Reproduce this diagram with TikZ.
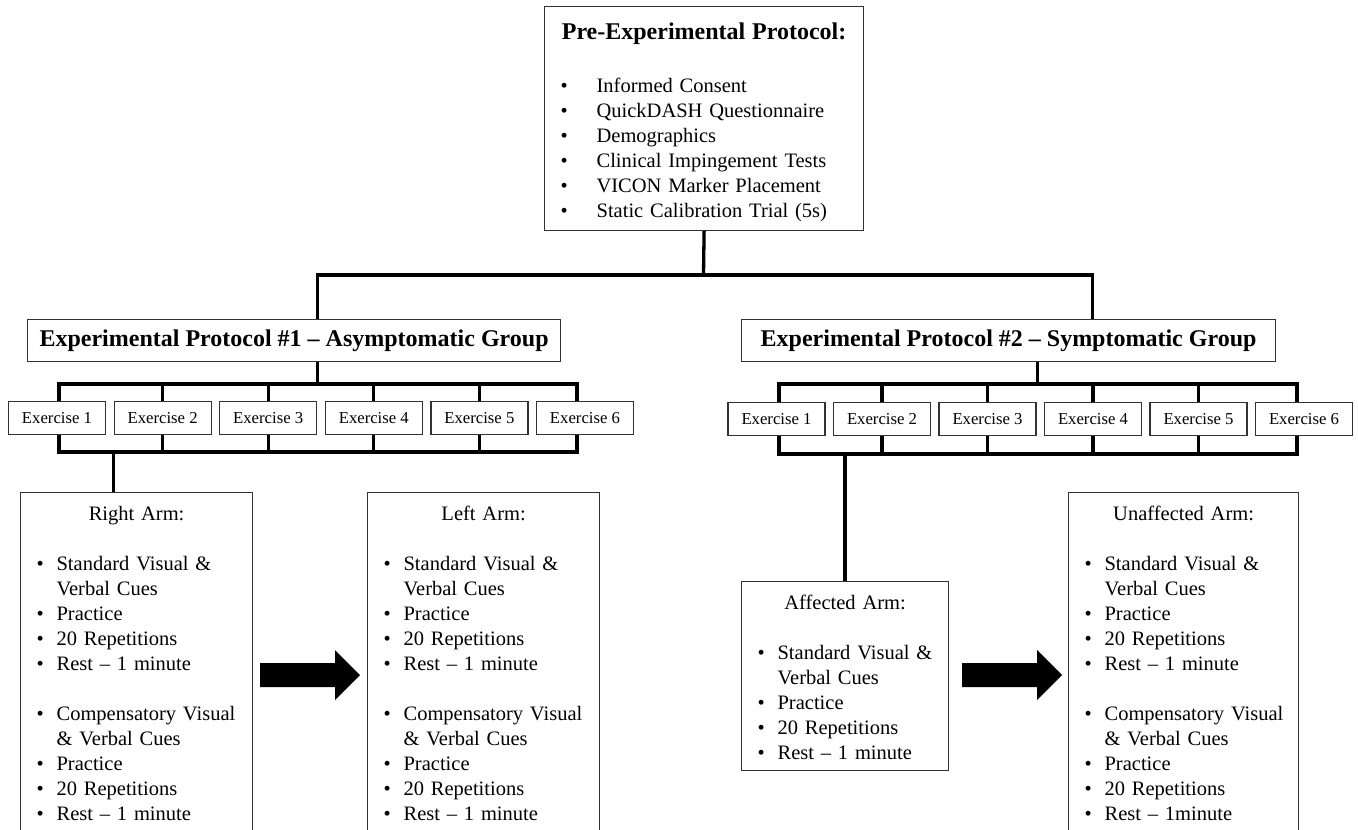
\documentclass[tikz,border=0pt]{standalone}
\usepackage{fontspec}
\setmainfont{Liberation Serif}

\newcommand{\preitem}[1]{\par\noindent\hspace*{16pt}\makebox[36pt][l]{\textbullet}#1}
\newcommand{\armitem}[1]{\par\noindent\hangindent=36pt\hangafter=1\hspace*{16pt}\makebox[20pt][l]{\textbullet}#1}

\begin{document}
\begin{tikzpicture}[x=1pt,y=-1pt,
	font=\fontsize{20.5}{25}\selectfont,
	box/.style={draw=black!80, line width=1.2pt, inner sep=0pt, anchor=north west, align=left},
	grpbox/.style={box, minimum width=533pt, minimum height=42pt, align=center, font=\bfseries\fontsize{24}{29}\selectfont},
	exbox/.style={draw=black!80, line width=1.2pt, inner sep=0pt, minimum width=97pt, minimum height=33pt, font=\fontsize{16.7}{20}\selectfont},
	conn/.style={line width=3.3pt}]

	\useasboundingbox (0,0) rectangle (1358,830);

	% top box
	\node[box, text width=319pt] (pre) at (544,6) {{\centering\bfseries\fontsize{24}{29}\selectfont\rule{0pt}{33pt}Pre-Experimental Protocol:\par}\vspace{28pt}
		\preitem{Informed Consent}
		\preitem{QuickDASH Questionnaire}
		\preitem{Demographics}
		\preitem{Clinical Impingement Tests}
		\preitem{VICON Marker Placement}
		\preitem{Static Calibration Trial (5s)\rule[-13pt]{0pt}{13pt}}};

	% groups
	\node[grpbox] (grpA) at (27,319) {Experimental Protocol \#1 – Asymptomatic Group};
	\node[grpbox, minimum width=534pt] (grpB) at (741,319) {Experimental Protocol \#2 – Symptomatic Group};

	\coordinate (split) at (703.5,275);
	\draw[conn] (pre.south) -- (split);
	\draw[conn] ([xshift=23.5pt]grpA.north) |- (split) -| ([xshift=84pt]grpB.north);

	% exercises
	\foreach \i in {1,...,6}{
		\node[exbox] (aEx\i) at ({57+(\i-1)*105.6},418) {Exercise \i};
		\node[exbox] (bEx\i) at ({776.5+(\i-1)*105.5},419) {Exercise \i};
	}

	\coordinate (aTop) at (0,384);
	\coordinate (aBot) at (0,452);
	\coordinate (bTop) at (0,384);
	\coordinate (bBot) at (0,454);

	\draw[conn] ([xshift=23.5pt]grpA.south) -- ([xshift=23.5pt]grpA.south |- aTop);
	\draw[conn] ([xshift=29pt]grpB.south) -- ([xshift=29pt]grpB.south |- bTop);

	\draw[conn] ([xshift=2pt]aEx1.north) |- ([xshift=-8pt]aEx6.north |- aTop) -- ([xshift=-8pt]aEx6.north);
	\draw[conn] ([xshift=2pt]aEx1.south) |- ([xshift=-8pt]aEx6.south |- aBot) -- ([xshift=-8pt]aEx6.south);
	\draw[conn] ([xshift=2.5pt]bEx1.north) |- ([xshift=-7pt]bEx6.north |- bTop) -- ([xshift=-7pt]bEx6.north);
	\draw[conn] ([xshift=2.5pt]bEx1.south) |- ([xshift=-7pt]bEx6.south |- bBot) -- ([xshift=-7pt]bEx6.south);
	\foreach \i in {2,...,5}{
		\draw[conn] (aEx\i.north) -- (aEx\i.north |- aTop);
		\draw[conn] (aEx\i.south) -- (aEx\i.south |- aBot);
		\draw[conn] (bEx\i.north) -- (bEx\i.north |- bTop);
		\draw[conn] (bEx\i.south) -- (bEx\i.south |- bBot);
	}

	% arms
	\node[box, text width=232pt] (rightArm) at (20,492) {{\centering\rule{0pt}{28pt}Right Arm:\par}\vspace{25pt}
		\armitem{Standard Visual \&\newline Verbal Cues}
		\armitem{Practice}
		\armitem{20 Repetitions}
		\armitem{Rest – 1 minute}\par\vspace{25pt}
		\armitem{Compensatory Visual\newline \& Verbal Cues}
		\armitem{Practice}
		\armitem{20 Repetitions}
		\armitem{Rest – 1 minute\rule[-30pt]{0pt}{30pt}}};

	\node[box, text width=232pt] (leftArm) at (367,492) {{\centering\rule{0pt}{28pt}Left Arm:\par}\vspace{25pt}
		\armitem{Standard Visual \&\newline Verbal Cues}
		\armitem{Practice}
		\armitem{20 Repetitions}
		\armitem{Rest – 1 minute}\par\vspace{25pt}
		\armitem{Compensatory Visual\newline \& Verbal Cues}
		\armitem{Practice}
		\armitem{20 Repetitions}
		\armitem{Rest – 1 minute\rule[-30pt]{0pt}{30pt}}};

	\node[box, text width=207pt] (affArm) at (741,581) {{\centering\rule{0pt}{28pt}Affected Arm:\par}\vspace{25pt}
		\armitem{Standard Visual \&\newline Verbal Cues}
		\armitem{Practice}
		\armitem{20 Repetitions}
		\armitem{Rest – 1 minute\rule[-11pt]{0pt}{11pt}}};

	\node[box, text width=230pt] (unaffArm) at (1068,492) {{\centering\rule{0pt}{28pt}Unaffected Arm:\par}\vspace{25pt}
		\armitem{Standard Visual \&\newline Verbal Cues}
		\armitem{Practice}
		\armitem{20 Repetitions}
		\armitem{Rest – 1 minute}\par\vspace{25pt}
		\armitem{Compensatory Visual\newline \& Verbal Cues}
		\armitem{Practice}
		\armitem{20 Repetitions}
		\armitem{Rest – 1minute\rule[-30pt]{0pt}{30pt}}};

	\draw[conn] ([xshift=-23pt]rightArm.north) -- ([xshift=-23pt]rightArm.north |- aBot);
	\draw[conn] (affArm.north) -- (affArm.north |- bBot);

	% block arrows
	\foreach \ax in {260,962}
		\fill (\ax,663) -- ++(75,0) -- ++(0,-13) -- ++(25,25) -- ++(-25,25) -- ++(0,-13) -- ++(-75,0) -- cycle;
\end{tikzpicture}
\end{document}
